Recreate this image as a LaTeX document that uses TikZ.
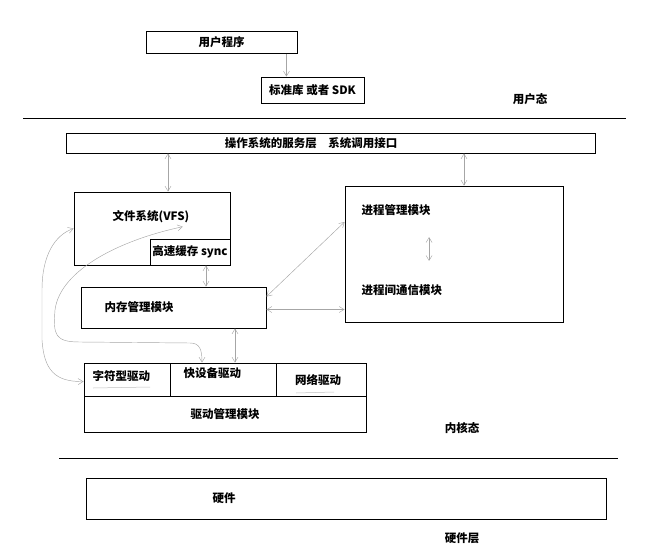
\documentclass[tikz,border=0pt]{standalone}
\usepackage{fontspec}
\setmainfont{Noto Sans CJK SC}
\usetikzlibrary{arrows.meta}

\begin{document}
\begin{tikzpicture}[x=1pt, y=-1pt, >={Straight Barb[length=5pt,width=6pt]},
  every node/.style={font=\bfseries\fontsize{11.5}{13}\selectfont},
  box/.style={rectangle, draw, line width=0.9pt, inner sep=0pt},
  link/.style={gray!70, line width=0.45pt},
  scribble/.style={gray!50, line width=0.5pt}]

\useasboundingbox (0,0) rectangle (655,559);

% User space
\node[box, minimum width=151pt, minimum height=22pt] at (221.5,42.5) (app) {用户程序};
\node[box, minimum width=103pt, minimum height=26pt] at (312.5,90) (sdk) {标准库 或者 SDK};
\node at (530,99) (user) {用户态};
\draw[line width=1pt] (23,118) -- (626,118);

% System call layer
\node[box, minimum width=529pt, minimum height=20pt] at (330.5,143) (sys) {};
\node at (311,143) (syslab) {操作系统的服务层\quad 系统调用接口};

% File system and cache
\node[box, minimum width=156pt, minimum height=73pt] at (152,228.5) (fs) {};
\node at (151,217) (fslab) {文件系统(VFS)};
\node[box, fill=white, minimum width=80pt, minimum height=26pt] at (190,252) (cache) {高速缓存 sync};

% Memory management
\node[box, minimum width=185pt, minimum height=41pt] at (173.5,307.5) (mem) {};
\node[anchor=west] at (101,307) (memlab) {内存管理模块};

% Process management
\node[box, minimum width=218pt, minimum height=136pt] at (454,254) (proc) {};
\node[anchor=west] at (358,210) (pm) {进程管理模块};
\node[anchor=west] at (358,290) (ipc) {进程间通信模块};

% Drivers
\node[box, minimum width=86pt, minimum height=33pt] at (127,379.5) (chr) {};
\node[box, minimum width=106pt, minimum height=33pt] at (223,379.5) (blk) {};
\node[box, minimum width=90pt, minimum height=33pt] at (321,379.5) (net) {};
\node[box, minimum width=282pt, minimum height=36pt] at (225,414) (mgr) {驱动管理模块};
\node[anchor=west] at (89,376) (chrlab) {字符型驱动};
\node[anchor=west] at (180,373) (blklab) {快设备驱动};
\node at (318,380) (netlab) {网络驱动};
\draw[scribble] (93,388) -- (150,387);
\draw[scribble] (296,393) -- (334,392);
\node at (462,428) (kern) {内核态};
\draw[line width=1pt] (59,458) -- (618,458);

% Hardware
\node[box, minimum width=520pt, minimum height=41pt] at (346,498.5) (hw) {};
\node at (224,498) (hwlab) {硬件};
\node at (462,538) (hwlayer) {硬件层};

% Connections
\draw[->,link] ([xshift=-11pt]app.south east) -- ([xshift=-11pt]app.south east |- sdk.north);
\draw[<->,link] ([xshift=16pt]fs.north) -- ([xshift=16pt]fs.north |- sys.south);
\draw[<->,link] ([xshift=10pt]proc.north) -- ([xshift=10pt]proc.north |- sys.south);
\draw[<->,link] ([xshift=16pt]cache.south) -- ([xshift=16pt]cache.south |- mem.north);
\draw[<->,link] ([yshift=-10pt]mem.north east) -- ([yshift=32pt]proc.west);
\draw[<->,link] ([yshift=-2pt]mem.east) -- ([yshift=-2pt]mem.east -| proc.west);
\draw[<->,link] ([xshift=12pt]blk.north) -- ([xshift=12pt]blk.north |- mem.south);
\draw[<->,link, shorten <=18pt, shorten >=20pt] ([xshift=-5pt]pm.south east) -- ([xshift=-5pt]pm.south east |- ipc.north);

% Curved links
\draw[<->,link] ([xshift=-10pt]fslab.south east) .. controls (120,240) and (60,270) .. (55,310)
  .. controls (53,335) and (55,342) .. (80,342) -- (190,343)
  .. controls (200,343) and (202,350) .. ([xshift=-21pt]blk.north);
\draw[<->,link] (fs.west) .. controls (55,235) and (42,255) .. (42,290) -- (42,340)
  .. controls (44,370) and (55,382) .. ([yshift=-2pt]chr.west);
\end{tikzpicture}
\end{document}
